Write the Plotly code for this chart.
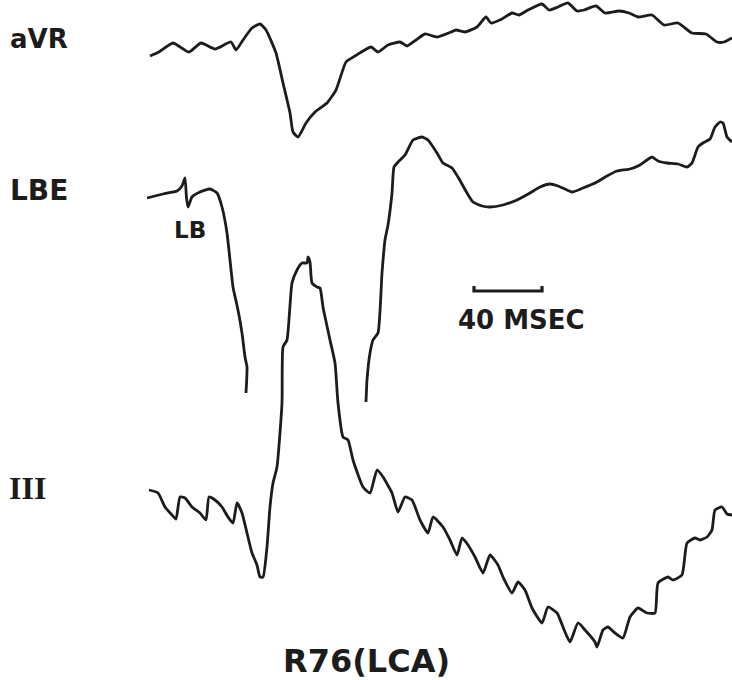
import plotly.graph_objects as go

# ---- lead aVR: sample position and deflection from its baseline ----
avr_t = [150, 159, 173, 189, 201, 215, 231, 236, 243, 252, 260, 266, 276, 283, 290, 293,
         298, 306, 315, 327, 336, 346, 355, 371, 378, 388, 400, 407, 416, 425, 437, 451,
         456, 465, 477, 486, 491, 502, 512, 519, 528, 542, 549, 558, 568, 577, 584, 596,
         605, 619, 629, 638, 652, 664, 678, 692, 706, 717, 724, 732]
avr_v = [-6, -2, 7, -2, 7, 1, 8, 0, 10, 22, 26, 20, -3, -33, -63, -82,
         -87, -73, -62, -53, -40, -12, -6, 3, -2, 5, 8, 4, 10, 16, 13, 18,
         20, 18, 23, 33, 27, 31, 37, 35, 40, 46, 40, 43, 47, 39, 40, 44,
         37, 39, 37, 33, 35, 25, 27, 17, 16, 8, 8, 12]

# ---- left bundle electrogram, before the gap ----
lbe1_t = [147, 163, 177, 182, 185, 186.5, 188, 192, 200, 210, 217, 222, 227, 230, 233,
          238, 242, 245, 247, 246]
lbe1_v = [-3, 1, 4, 9, 17, -3, -12, -2, 3, 6, 2, -12, -38, -65, -92,
          -115, -138, -162, -172, -198]

# ---- left bundle electrogram, after the gap ----
lbe2_t = [366, 367, 370, 373, 378, 382, 385, 388, 392, 394, 398, 405, 413, 422, 428,
          437, 443, 452, 458, 467, 473, 482, 490, 503, 517, 530, 540, 550, 558, 565,
          572, 583, 597, 607, 617, 630, 640, 647, 652, 658, 667, 678, 687, 692, 698,
          703, 710, 715, 720, 723, 727, 732]
lbe2_v = [-207, -185, -158, -145, -138, -78, -45, -30, 2, 28, 33, 40, 55, 58, 55,
          42, 32, 27, 18, 2, -7, -11, -12, -10, -5, 2, 8, 11, 9, 6,
          3, 7, 13, 19, 24, 26, 30, 35, 38, 34, 32, 31, 28, 32, 48,
          52, 56, 68, 73, 72, 58, 53]

# ---- lead III ----
iii_t = [149, 158, 165, 172, 176, 180, 185, 192, 200, 206, 209, 215, 222, 228, 233, 237,
         242, 247, 252, 257, 260, 263, 267, 270, 273, 277, 282, 283, 287, 292, 297, 302,
         307, 308, 310, 312, 317, 320, 323, 330, 335, 338, 343, 348, 353, 363, 370, 377,
         383, 392, 398, 405, 412, 420, 428, 433, 443, 450, 457, 462, 468, 475, 483, 490,
         498, 503, 512, 518, 525, 532, 542, 548, 557, 565, 570, 578, 585, 595, 597, 603,
         608, 615, 623, 630, 638, 647, 655, 658, 668, 673, 682, 687, 695, 700, 707, 712,
         715, 722, 727, 732]
iii_v = [5, 2, -12, -20, -24, -2, -3, -12, -18, -25, -2, -5, -12, -22, -28, -8,
         -18, -38, -58, -70, -82, -82, -52, -12, 12, 28, 92, 148, 155, 212, 225, 232,
         232, 238, 233, 212, 208, 207, 188, 155, 132, 92, 58, 55, 35, 8, 2, 25,
         18, 2, -17, -2, -5, -25, -38, -22, -32, -45, -60, -43, -50, -62, -78, -60,
         -70, -82, -98, -87, -95, -113, -128, -112, -118, -137, -147, -128, -135, -147, -152, -135,
         -132, -138, -143, -122, -113, -118, -118, -88, -82, -85, -80, -48, -43, -45, -42, -35,
         -15, -12, -19, -20]

# vertical position of each lead's baseline on the sheet
offsets = {"aVR": -50, "LBE": -195, "III": -495}

INK = "#1c1c1c"
SANS = "DejaVu Sans"
SERIF = "Liberation Serif"

fig = go.Figure()


def add_lead(t, v, base):
    fig.add_trace(go.Scatter(
        x=t, y=[base + a for a in v], mode="lines",
        line=dict(color=INK, width=2.8, shape="spline", smoothing=0.5),
        hoverinfo="skip", showlegend=False))


add_lead(avr_t, avr_v, offsets["aVR"])
add_lead(lbe1_t, lbe1_v, offsets["LBE"])
add_lead(lbe2_t, lbe2_v, offsets["LBE"])
add_lead(iii_t, iii_v, offsets["III"])

# 40 ms calibration bar
bar_t = [474, 474, 542, 542]
bar_v = [-286, -291, -291, -286]
fig.add_trace(go.Scatter(x=bar_t, y=bar_v, mode="lines",
                         line=dict(color=INK, width=3.2), hoverinfo="skip",
                         showlegend=False))

labels = [
    ("aVR", 8, -39, 26, "left", SANS),
    ("LBE", 8, -190, 28, "left", SANS),
    ("LB", 172, -230, 23, "left", SANS),
    ("III", 7, -488, 32, "left", SERIF),
    ("40 MSEC", 456, -320, 26, "left", SANS),
    ("R76(LCA)", 366, -661, 32, "center", SANS),
]
for text, x, y, size, align, family in labels:
    fig.add_annotation(x=x, y=y, text=text, showarrow=False, xanchor=align,
                       yanchor="middle",
                       font=dict(family=family, size=size, color=INK,
                                 weight="bold"))

fig.update_layout(
    width=732, height=680,
    margin=dict(l=0, r=0, t=0, b=0),
    paper_bgcolor="white", plot_bgcolor="white",
    xaxis=dict(range=[0, 732], visible=False, fixedrange=True),
    yaxis=dict(range=[-680, 0], visible=False, fixedrange=True),
)

fig.write_html("out.html")
